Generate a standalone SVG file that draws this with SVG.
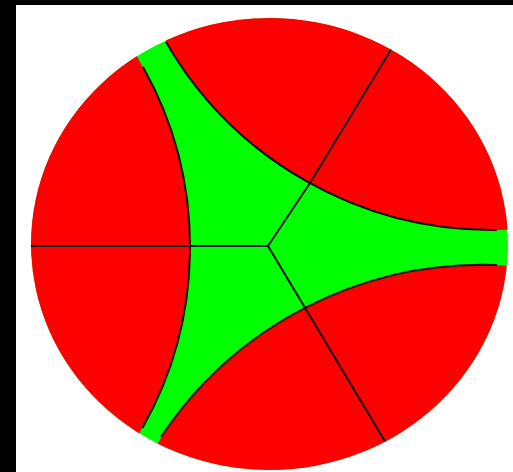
<svg xmlns="http://www.w3.org/2000/svg" width="513" height="472" viewBox="0 0 513 472">
  <defs>
    <clipPath id="disk">
      <ellipse cx="269.5" cy="244" rx="238.5" ry="226"/>
    </clipPath>
    <style>
      .red { fill: #ff0000; }
      .edge { fill: none; stroke: #111; stroke-width: 2; }
    </style>
  </defs>
  <rect x="0" y="0" width="513" height="472" fill="#ffffff"/>
  <rect x="0" y="0" width="16" height="472" fill="#000000"/>
  <rect x="0" y="0" width="513" height="5" fill="#000000"/>
  <g id="disk-fill" clip-path="url(#disk)">
    <ellipse cx="269.5" cy="244" rx="238.5" ry="226" fill="#00ff00"/>
    <circle class="red" cx="-178" cy="247" r="368"/>
    <circle class="red" cx="492" cy="-146" r="376"/>
    <circle class="red" cx="483" cy="651" r="386"/>
  </g>
  <g id="edges" clip-path="url(#disk)">
    <path class="edge" d="M143,67 A368,368 0 0 1 142.4,428"/>
    <path class="edge" d="M166,42 A376,376 0 0 0 497,230"/>
    <path class="edge" d="M161,437 A386,386 0 0 1 497,265"/>
    <path class="edge" d="M31,246 L268,246"/>
    <path class="edge" d="M268,246 L310,183 L392,48"/>
    <path class="edge" d="M268,246 L386,443"/>
  </g>
</svg>
